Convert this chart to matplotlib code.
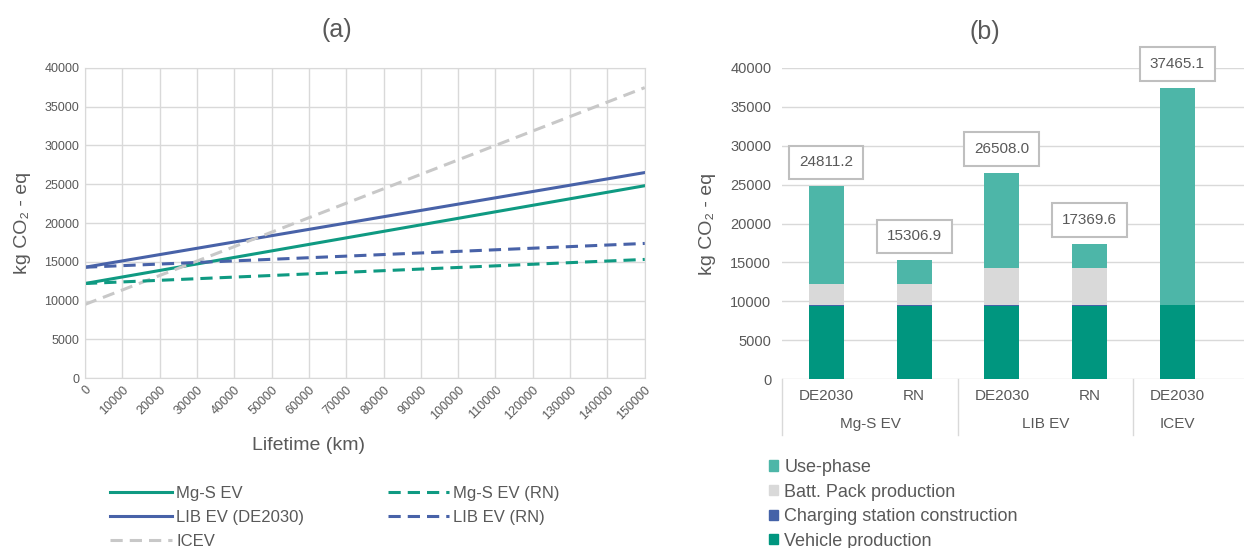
import numpy as np
import matplotlib
matplotlib.use("Agg")
import matplotlib.pyplot as plt
from matplotlib.patches import Patch

plt.rcParams['font.family'] = ['Liberation Sans', 'DejaVu Sans']

TXT = '#595959'
GRID = '#D9D9D9'

# (a) cumulative emissions over lifetime, start and end of each line
lifetime = [0, 150000]
mgs_ev = [12200, 24811.2]
lib_ev = [14300, 26508.0]
mgs_rn = [12200, 15306.9]
lib_rn = [14300, 17369.6]
icev = [9500, 37465.1]

# (b) stacked contributions per scenario
scenarios = ['DE2030', 'RN', 'DE2030', 'RN', 'DE2030']
groups = ['Mg-S EV', 'LIB EV', 'ICEV']
group_pos = [0.5, 2.5, 4.0]
totals = np.array([24811.2, 15306.9, 26508.0, 17369.6, 37465.1])
vehicle = np.array([9400, 9400, 9400, 9400, 9500])
charging = np.array([100, 100, 100, 100, 0])
battery = np.array([2700, 2700, 4800, 4800, 0])
use_phase = totals - vehicle - charging - battery

c_teal = '#0F9A82'
c_blue = '#4862A8'
c_grey = '#C8C8C8'
c_use = '#4DB6A8'
c_batt = '#D9D9D9'
c_charge = '#4462A8'
c_vehicle = '#00967F'

fig = plt.figure(figsize=(12.44, 5.48), dpi=100)

# ---------- left panel ----------
ax1 = fig.add_axes([0.0683, 0.310, 0.450, 0.566])
dash = (4, 2.3)
ax1.plot(lifetime, mgs_ev, color=c_teal, lw=2.2, label='Mg-S EV')
ax1.plot(lifetime, lib_ev, color=c_blue, lw=2.2, label='LIB EV (DE2030)')
ax1.plot(lifetime, icev, color=c_grey, lw=2.2, ls=(0, dash), label='ICEV')
ax1.plot(lifetime, mgs_rn, color=c_teal, lw=2.2, ls=(0, dash), label='Mg-S EV (RN)')
ax1.plot(lifetime, lib_rn, color=c_blue, lw=2.2, ls=(0, dash), label='LIB EV (RN)')
ax1.set_xlim(0, 150000)
ax1.set_ylim(0, 40000)
ax1.set_xticks(np.arange(0, 150001, 10000))
ax1.set_yticks(np.arange(0, 40001, 5000))
ax1.grid(True, color=GRID, lw=1)
ax1.set_axisbelow(True)
for s in ax1.spines.values():
    s.set_color(GRID)
ax1.tick_params(length=0, colors=TXT, labelsize=9, pad=4)
plt.setp(ax1.get_xticklabels(), rotation=45, ha='right', rotation_mode='anchor')
ax1.set_xlabel('Lifetime (km)', color=TXT, fontsize=14)
ax1.xaxis.set_label_coords(0.40, -0.19)
ax1.set_ylabel('kg CO₂ - eq', color=TXT, fontsize=14, labelpad=10)
ax1.set_title('(a)', color=TXT, fontsize=18, x=0.45, pad=22)

fig.legend(handles=ax1.get_lines(), loc='upper left', bbox_to_anchor=(0.082, 0.128),
           ncol=2, frameon=False, fontsize=12, handlelength=3.7, handletextpad=0.25,
           labelspacing=0.52, columnspacing=5.0, labelcolor=TXT, borderpad=0)

# ---------- right panel ----------
ax2 = fig.add_axes([0.629, 0.308, 0.371, 0.568])
x = np.arange(len(scenarios))
w = 0.4
ax2.bar(x, vehicle, w, color=c_vehicle)
ax2.bar(x, charging, w, bottom=vehicle, color=c_charge)
ax2.bar(x, battery, w, bottom=vehicle + charging, color=c_batt)
ax2.bar(x, use_phase, w, bottom=vehicle + charging + battery, color=c_use)
ax2.set_xlim(-0.5, 4.76)
ax2.set_ylim(0, 40000)
ax2.set_yticks(np.arange(0, 40001, 5000))
ax2.yaxis.grid(True, color=GRID, lw=1)
ax2.set_axisbelow(True)
for s in ax2.spines.values():
    s.set_visible(False)
ax2.set_xticks(x)
ax2.set_xticklabels(scenarios)
ax2.tick_params(length=0, colors=TXT, labelsize=10.5, pad=8)
ax2.tick_params(axis='x', labelsize=11, pad=7)
ax2.set_ylabel('kg CO₂ - eq', color=TXT, fontsize=14, labelpad=10)
ax2.set_title('(b)', color=TXT, fontsize=18, x=0.438, pad=21)

# value boxes above each bar
for xi, t in zip(x, totals):
    ax2.annotate(f'{t:.1f}', (xi, t), xytext=(0, 12), textcoords='offset points',
                 ha='center', va='bottom', fontsize=11, color=TXT,
                 bbox=dict(boxstyle='square,pad=0.65', fc='white', ec='#BFBFBF', lw=1.5),
                 annotation_clip=False)

# two-level category axis
trans = ax2.get_xaxis_transform()
for xs in [-0.5, 1.5, 3.5]:
    ax2.plot([xs, xs], [0, -0.18], color=GRID, lw=1, transform=trans, clip_on=False)
for gp, g in zip(group_pos, groups):
    ax2.text(gp, -0.145, g, transform=trans, ha='center', va='center', color=TXT, fontsize=11)

stack_handles = [Patch(color=c_use, label='Use-phase'),
                 Patch(color=c_batt, label='Batt. Pack production'),
                 Patch(color=c_charge, label='Charging station construction'),
                 Patch(color=c_vehicle, label='Vehicle production')]
fig.legend(handles=stack_handles, loc='upper left', bbox_to_anchor=(0.611, 0.179),
           frameon=False, fontsize=13, handlelength=0.5, handleheight=0.5,
           handletextpad=0.35, labelspacing=0.42, labelcolor=TXT, borderpad=0)

fig.savefig('out.png', dpi=100, facecolor='white')
